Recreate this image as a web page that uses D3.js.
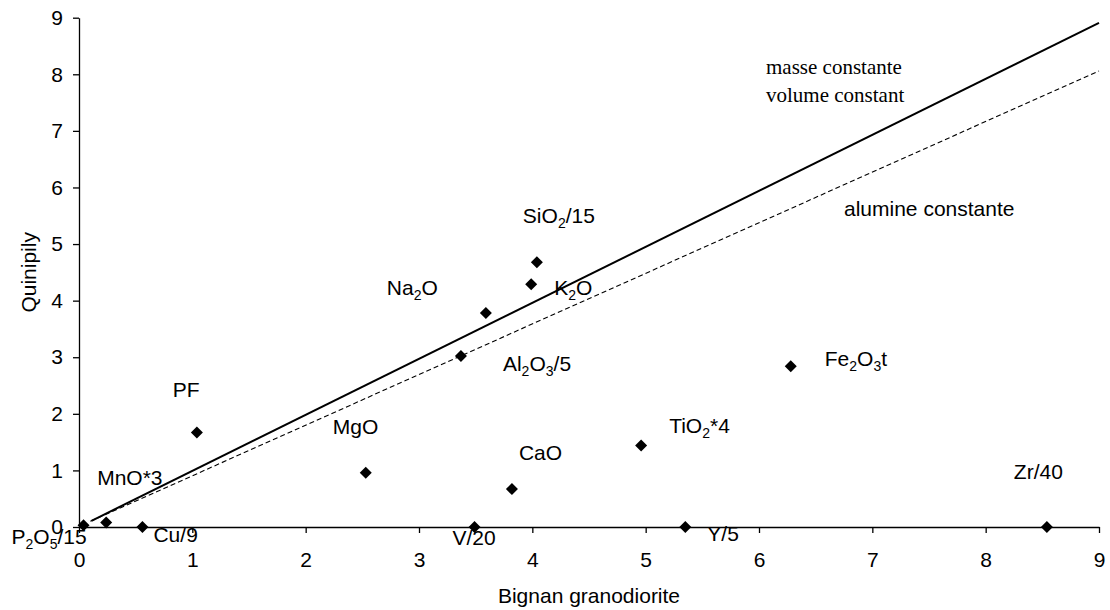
<!DOCTYPE html>
<html>
<head>
<meta charset="utf-8">
<script src="https://cdn.jsdelivr.net/npm/d3@7"></script>
<style>
  body { margin: 0; background: #fff; }
  svg { display: block; }
</style>
</head>
<body>
<svg id="chart" width="1110" height="610"></svg>
<script>
// ---- data ----
const oxides = ["P2O5/15", "MnO*3", "Cu/9", "PF", "MgO", "V/20", "CaO", "TiO2*4", "Y/5", "Zr/40", "Fe2O3t", "SiO2/15", "K2O", "Na2O", "Al2O3/5"];
const bignan = [0.04, 0.24, 0.56, 1.04, 2.53, 3.49, 3.82, 4.96, 5.35, 8.54, 6.28, 4.04, 3.99, 3.59, 3.37];
const quinipily = [0.03, 0.08, 0.0, 1.67, 0.96, 0.0, 0.67, 1.44, 0.0, 0.0, 2.84, 4.68, 4.29, 3.78, 3.02];
// label parts: [text, isSubscript]
const labelParts = [
  [["P", 0], ["2", 1], ["O", 0], ["5", 1], ["/15", 0]],
  [["MnO*3", 0]],
  [["Cu/9", 0]],
  [["PF", 0]],
  [["MgO", 0]],
  [["V/20", 0]],
  [["CaO", 0]],
  [["TiO", 0], ["2", 1], ["*4", 0]],
  [["Y/5", 0]],
  [["Zr/40", 0]],
  [["Fe", 0], ["2", 1], ["O", 0], ["3", 1], ["t", 0]],
  [["SiO", 0], ["2", 1], ["/15", 0]],
  [["K", 0], ["2", 1], ["O", 0]],
  [["Na", 0], ["2", 1], ["O", 0]],
  [["Al", 0], ["2", 1], ["O", 0], ["3", 1], ["/5", 0]]
];
// reference lines (x, y endpoints)
const masseX = [0.11, 9];
const masseY = [0.11, 8.91];
const alumX = [0.10, 9];
const alumY = [0.10, 8.06];
const xTicks = [0, 1, 2, 3, 4, 5, 6, 7, 8, 9];
const yTicks = [0, 1, 2, 3, 4, 5, 6, 7, 8, 9];

// ---- layout (pixel offsets of labels relative to their points) ----
const labelOffsets = [
  [-72, 19], [-9, -37], [11, 15], [-24, -35], [-33, -39], [-22, 18], [7, -29],
  [28, -13], [22, 14], [-33, -48], [34, 0], [-14, -39], [23, 11], [-99, -18], [42, 15]
];

const SANS = "Liberation Sans, Arial, sans-serif";
const SERIF = "Liberation Serif, Times New Roman, serif";
const svg = d3.select("#chart");
const x = d3.scaleLinear().domain([0, 9]).range([79, 1099]);
const y = d3.scaleLinear().domain([0, 9]).range([527, 17.7]);
const FS = 21;

// axes
const xAxis = svg.append("g").attr("transform", `translate(0,${y(0)})`)
  .call(d3.axisBottom(x).tickValues(xTicks).tickSize(6).tickSizeOuter(0).tickPadding(19).tickFormat(d3.format("d")));
const yAxis = svg.append("g").attr("transform", `translate(${x(0)},0)`)
  .call(d3.axisLeft(y).tickValues(yTicks).tickSize(6).tickSizeOuter(0).tickPadding(10).tickFormat(d3.format("d")));
[xAxis, yAxis].forEach(g => {
  g.select(".domain").attr("stroke", "#000").attr("stroke-width", 1.3);
  g.selectAll(".tick line").attr("stroke", "#000").attr("stroke-width", 1.3);
  g.selectAll(".tick text").style("font-family", SANS).attr("font-size", FS).attr("fill", "#000");
});

// reference lines
const line = d3.line().x(d => x(d[0])).y(d => y(d[1]));
svg.append("path").datum(d3.zip(masseX, masseY)).attr("d", line)
  .attr("stroke", "#000").attr("stroke-width", 2).attr("fill", "none");
svg.append("path").datum(d3.zip(alumX, alumY)).attr("d", line)
  .attr("stroke", "#000").attr("stroke-width", 1.1).attr("stroke-dasharray", "5,3").attr("fill", "none");

// points
const pts = oxides.map((n, i) => ({ name: n, x: bignan[i], y: quinipily[i], parts: labelParts[i], off: labelOffsets[i] }));
svg.append("g").selectAll("path").data(pts).join("path")
  .attr("transform", d => `translate(${x(d.x)},${y(d.y)})`)
  .attr("d", "M0,-6L6,0L0,6L-6,0Z").attr("fill", "#000");

// labels
const lab = svg.append("g").selectAll("text").data(pts).join("text")
  .attr("x", d => x(d.x) + d.off[0])
  .attr("y", d => y(d.y) + d.off[1])
  .style("font-family", SANS)
  .attr("font-size", FS);
lab.each(function(d) {
  const t = d3.select(this);
  let shifted = false;
  d.parts.forEach(p => {
    const ts = t.append("tspan").text(p[0]);
    if (p[1] && !shifted) { ts.attr("dy", 5).attr("font-size", 14); shifted = true; }
    else if (p[1] && shifted) { ts.attr("font-size", 14); }
    else if (!p[1] && shifted) { ts.attr("dy", -5); shifted = false; }
  });
});

// line annotations
svg.append("text").attr("x", 766).attr("y", 74).style("font-family", SERIF)
  .attr("font-size", FS).text("masse constante");
svg.append("text").attr("x", 766).attr("y", 102).style("font-family", SERIF)
  .attr("font-size", FS).text("volume constant");
svg.append("text").attr("x", 844).attr("y", 216).style("font-family", SANS)
  .attr("font-size", FS).text("alumine constante");

// axis titles
svg.append("text").attr("x", (x(0) + x(9)) / 2).attr("y", 603).attr("text-anchor", "middle")
  .style("font-family", SANS).attr("font-size", FS).text("Bignan granodiorite");
svg.append("text").attr("transform", `translate(36,${(y(0) + y(9)) / 2}) rotate(-90)`)
  .attr("text-anchor", "middle").style("font-family", SANS).attr("font-size", FS).text("Quinipily");
</script>
</body>
</html>
